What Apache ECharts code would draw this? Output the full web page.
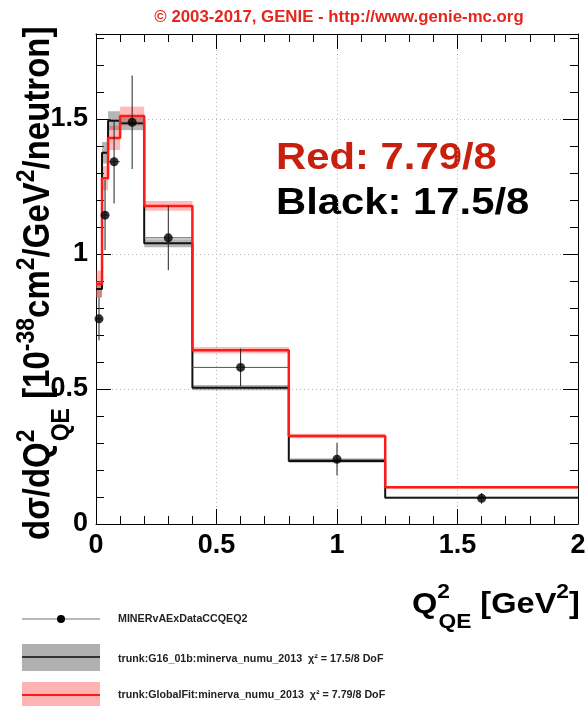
<!DOCTYPE html>
<html>
<head>
<meta charset="utf-8">
<title>MINERvA CCQE dsigma/dQ2</title>
<script src="https://cdn.jsdelivr.net/npm/echarts@6/dist/echarts.min.js"></script>
<style>
  html, body { margin: 0; padding: 0; background: #fff; }
  #chart { width: 588px; height: 706px; }
</style>
</head>
<body>
<div id="chart"></div>
<script>
// Q2_QE bin edges (GeV^2)
const binEdges = [0, 0.025, 0.05, 0.1, 0.2, 0.4, 0.8, 1.2, 2.0];

// MINERvA data points
const dataQ2 = [0.0125, 0.0375, 0.075, 0.15, 0.3, 0.6, 1.0, 1.6];
const dataXsec = [0.76, 1.144, 1.342, 1.488, 1.06, 0.58, 0.24, 0.095];
const dataErr = [0.08, 0.13, 0.155, 0.173, 0.12, 0.07, 0.06, 0.02];

// G16_01b (black) and GlobalFit (red) predictions + band half widths
const g16Xsec = [0.87, 1.375, 1.494, 1.484, 1.04, 0.505, 0.233, 0.097];
const g16Band = [0.03, 0.04, 0.035, 0.025, 0.015, 0.01, 0.006, 0.004];
const fitXsec = [0.889, 1.281, 1.43, 1.511, 1.178, 0.644, 0.326, 0.136];
const fitBand = [0.05, 0.045, 0.045, 0.035, 0.018, 0.012, 0.008, 0.005];

const xRange = [0, 2];
const yRange = [0, 1.815];
const majorStep = 0.5;
const minorStep = 0.1;

const copyrightText = '© 2003-2017, GENIE - http://www.genie-mc.org';
const chiRed = 'Red: 7.79/8';
const chiBlack = 'Black: 17.5/8';
const legendNames = [
  'MINERvAExDataCCQEQ2',
  'trunk:G16_01b:minerva_numu_2013  χ² = 17.5/8 DoF',
  'trunk:GlobalFit:minerva_numu_2013  χ² = 7.79/8 DoF',
];

const FONT = '"Liberation Sans", Arial, Helvetica, sans-serif';

function stepData(vals) {
  const pts = vals.map((v, i) => [binEdges[i], v]);
  pts.push([binEdges[binEdges.length - 1], vals[vals.length - 1]]);
  return pts;
}

function bandData(vals, half) {
  return vals.map((v, i) => [binEdges[i], binEdges[i + 1], v - half[i], v + half[i]]);
}

function renderBand(color) {
  return function (params, api) {
    const p0 = api.coord([api.value(0), api.value(3)]);
    const p1 = api.coord([api.value(1), api.value(2)]);
    return {
      type: 'rect',
      shape: { x: p0[0], y: p0[1], width: p1[0] - p0[0], height: p1[1] - p0[1] },
      style: { fill: color },
    };
  };
}

function renderErrors(params, api) {
  const x = api.value(0);
  const y = api.value(1);
  const e = api.value(2);
  const top = api.coord([x, y + e]);
  const bot = api.coord([x, y - e]);
  const left = api.coord([api.value(3), y]);
  const right = api.coord([api.value(4), y]);
  return {
    type: 'group',
    children: [
      { type: 'line', shape: { x1: top[0], y1: top[1], x2: bot[0], y2: bot[1] }, style: { stroke: '#222', lineWidth: 1 } },
      { type: 'line', shape: { x1: left[0], y1: left[1], x2: right[0], y2: right[1] }, style: { stroke: '#555', lineWidth: 1 } },
    ],
  };
}

// rich text styles: main, superscript, stacked superscript, subscript
function richStyles(f, s, lh, supH, subH) {
  const base = { fontWeight: 'bold', fontFamily: FONT, fill: '#000', align: 'left' };
  return {
    m: Object.assign({}, base, { fontSize: f, lineHeight: lh, verticalAlign: 'middle' }),
    s: Object.assign({}, base, { fontSize: s, height: supH, verticalAlign: 'top' }),
    ss: Object.assign({}, base, { fontSize: s, height: supH, verticalAlign: 'top', width: 1 }),
    sb: Object.assign({}, base, { fontSize: s, height: subH, verticalAlign: 'bottom' }),
  };
}

function majorAxis(pos, range, showLabel, extra) {
  return Object.assign({
    type: 'value',
    position: pos,
    min: range[0],
    max: range[1],
    interval: majorStep,
    axisLine: { show: true, onZero: false, lineStyle: { color: '#000', width: 1 } },
    axisTick: { show: true, inside: true, length: 15, lineStyle: { color: '#000', width: 1 } },
    axisLabel: {
      show: showLabel,
      fontSize: 27,
      fontWeight: 'bold',
      fontFamily: FONT,
      color: '#000',
      showMaxLabel: pos === 'left' ? false : true,
    },
    splitLine: { show: false },
  }, extra || {});
}

function minorAxis(pos, range) {
  return {
    type: 'value',
    position: pos,
    min: range[0],
    max: range[1],
    interval: minorStep,
    axisLine: { show: false, onZero: false },
    axisTick: { show: true, inside: true, length: 8, lineStyle: { color: '#000', width: 1 } },
    axisLabel: { show: false },
    splitLine: { show: false },
  };
}

const gridLine = { show: true, lineStyle: { type: [1, 3], color: '#b5b5b5', width: 1 } };
const legendText = { fontSize: 10.7, fontWeight: 'bold', fontFamily: FONT, fill: '#222', align: 'left', verticalAlign: 'middle' };

const chart = echarts.init(document.getElementById('chart'));

chart.setOption({
  animation: false,
  backgroundColor: '#fff',
  grid: { left: 96, right: 10, top: 34, bottom: 182, outerBoundsMode: 'none' },
  xAxis: [
    majorAxis('bottom', xRange, true, { splitLine: gridLine }),
    minorAxis('bottom', xRange),
    majorAxis('top', xRange, false),
    minorAxis('top', xRange),
  ],
  yAxis: [
    majorAxis('left', yRange, true, { splitLine: gridLine }),
    minorAxis('left', yRange),
    majorAxis('right', yRange, false),
    minorAxis('right', yRange),
  ],
  series: [
    {
      name: 'G16 band',
      type: 'custom',
      z: 1,
      renderItem: renderBand('rgba(110,110,110,0.5)'),
      encode: { x: [0, 1], y: [2, 3] },
      data: bandData(g16Xsec, g16Band),
    },
    {
      name: 'GlobalFit band',
      type: 'custom',
      z: 2,
      renderItem: renderBand('rgba(255,40,40,0.32)'),
      encode: { x: [0, 1], y: [2, 3] },
      data: bandData(fitXsec, fitBand),
    },
    {
      name: 'trunk:G16_01b',
      type: 'line',
      z: 3,
      step: 'end',
      symbol: 'none',
      lineStyle: { color: '#111', width: 2 },
      data: stepData(g16Xsec),
    },
    {
      name: 'trunk:GlobalFit',
      type: 'line',
      z: 4,
      step: 'end',
      symbol: 'none',
      lineStyle: { color: '#ff1a1a', width: 2.5 },
      data: stepData(fitXsec),
    },
    {
      name: 'data errors',
      type: 'custom',
      z: 5,
      renderItem: renderErrors,
      encode: { x: [0, 3, 4], y: [1] },
      data: dataQ2.map((q, i) => [q, dataXsec[i], dataErr[i], binEdges[i], binEdges[i + 1]]),
    },
    {
      name: 'MINERvAExDataCCQEQ2',
      type: 'scatter',
      z: 6,
      symbol: 'circle',
      symbolSize: 9,
      itemStyle: { color: '#000' },
      data: dataQ2.map((q, i) => [q, dataXsec[i]]),
    },
  ],
  graphic: [
    {
      type: 'text', x: 339, y: 18, scaleX: 1.05,
      style: { text: copyrightText, fontSize: 16, fontWeight: 'bold', fontFamily: FONT, fill: '#e4261c', align: 'center', verticalAlign: 'middle' },
    },
    {
      type: 'text', x: 276, y: 159, scaleX: 1.13,
      style: { text: chiRed, fontSize: 37, fontWeight: 'bold', fontFamily: FONT, fill: '#c8200e', align: 'left', verticalAlign: 'middle' },
    },
    {
      type: 'text', x: 276, y: 204, scaleX: 1.13,
      style: { text: chiBlack, fontSize: 37, fontWeight: 'bold', fontFamily: FONT, fill: '#000', align: 'left', verticalAlign: 'middle' },
    },
    {
      // x axis title
      type: 'text', x: 412, y: 604.5, scaleX: 1.085,
      style: {
        text: '{m|Q}{ss|2}{sb|QE}{m| [GeV}{s|2}{m|]}',
        rich: richStyles(30, 21, 60, 36, 24),
        align: 'left', verticalAlign: 'middle',
      },
    },
    {
      // y axis title (rotated)
      type: 'text', x: 39, y: 540, rotation: Math.PI / 2, scaleY: 1.13,
      style: {
        text: '{m|dσ/dQ}{ss|2}{sb|QE}{m| [10}{s|-38}{m|cm}{s|2}{m|/GeV}{s|2}{m|/neutron]}',
        rich: richStyles(33, 23, 64, 42, 24),
        align: 'left', verticalAlign: 'middle',
      },
    },
    // legend
    { type: 'line', shape: { x1: 22, y1: 619, x2: 100, y2: 619 }, style: { stroke: '#a0a0a0', lineWidth: 1.5 } },
    { type: 'circle', shape: { cx: 61, cy: 619, r: 4 }, style: { fill: '#000' } },
    { type: 'rect', shape: { x: 22, y: 644, width: 78, height: 27 }, style: { fill: '#b0b0b0' } },
    { type: 'line', shape: { x1: 22, y1: 657, x2: 100, y2: 657 }, style: { stroke: '#333', lineWidth: 2 } },
    { type: 'rect', shape: { x: 22, y: 682, width: 78, height: 26 }, style: { fill: '#ffb3b3' } },
    { type: 'line', shape: { x1: 22, y1: 695, x2: 100, y2: 695 }, style: { stroke: '#ff1a1a', lineWidth: 2 } },
    { type: 'text', x: 118, y: 619, style: Object.assign({ text: legendNames[0] }, legendText) },
    { type: 'text', x: 118, y: 659, style: Object.assign({ text: legendNames[1] }, legendText) },
    { type: 'text', x: 118, y: 695, style: Object.assign({ text: legendNames[2] }, legendText) },
  ],
});
</script>
</body>
</html>
